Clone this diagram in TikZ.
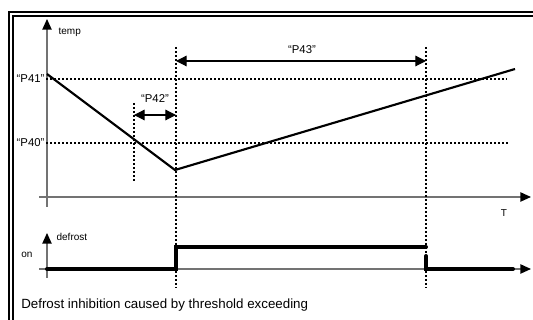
\documentclass[tikz,border=0pt]{standalone}
\usepackage{fontspec}
\setmainfont{Liberation Sans}
\usetikzlibrary{arrows.meta,calc}

\begin{document}
\begin{tikzpicture}[x=0.75pt,y=-0.75pt,
    axis/.style={draw=black!55,line width=1pt,-{Triangle[length=8pt,width=7pt,color=black]}},
    guide/.style={line width=0.8pt,dash pattern=on 1.5pt off 1.5pt},
    dim/.style={line width=0.9pt,{Triangle[length=8pt,width=8pt]}-{Triangle[length=8pt,width=8pt]}},
    signal/.style={line width=3pt,line cap=round},
    lbl/.style={font=\fontsize{7.5}{8}\selectfont,inner sep=1pt},
    par/.style={font=\fontsize{8.5}{9}\selectfont,inner sep=1pt}]

    \useasboundingbox (0,0) rectangle (533,320);

    \draw[line width=1.3pt] (9,320) -- (9,12) -- (533,12);
    \draw[line width=1.3pt] (13,320) -- (13,16) -- (533,16);

    \coordinate (tbot) at (47,207);
    \coordinate (ttop) at (47,19);
    \coordinate (tleft) at (39,197);
    \coordinate (tright) at (531,197);
    \coordinate (dbot) at (47,278);
    \coordinate (dtop) at (47,233);
    \coordinate (dleft) at (39,269);
    \coordinate (dright) at (531,269);

    \node[lbl,anchor=west] (temp) at (57,32) {temp};
    \node[lbl] (T) at (504,213) {T};
    \node[lbl,anchor=west] (defrost) at (55,237) {defrost};
    \node[lbl] (on) at (27,255) {on};

    \node[par,anchor=east] (P41) at (46,79) {``P41''};
    \node[par,anchor=east] (P40) at (46,143) {``P40''};
    \node[par] (P42) at (155,99) {``P42''};
    \node[par] (P43) at (302,50) {``P43''};

    \coordinate (p41end) at (507,79);
    \coordinate (p40end) at (510,143);
    \coordinate (a1) at (134,103);
    \coordinate (a2) at (134,183);
    \coordinate (b1) at (176,47);
    \coordinate (b2) at (176,288);
    \coordinate (c1) at (426,47);
    \coordinate (c2) at (426,288);

    \draw[axis] (tbot) -- (ttop);
    \draw[axis] (tleft) -- (tright);
    \draw[axis] (dbot) -- (dtop);
    \draw[axis] (dleft) -- (dright);

    \draw[guide] (P41.east) -- (p41end);
    \draw[guide] (P40.east) -- (p40end);
    \draw[guide] (a1) -- (a2);
    \draw[guide] (b1) -- (b2);
    \draw[guide] (c1) -- (c2);

    \draw[dim] (134,115) -- (176,115);
    \draw[dim] (176,61) -- (426,61);

    \coordinate (t0) at (47,74);
    \coordinate (tmin) at (175,170);
    \coordinate (t1) at (515,69);
    \draw[line width=1.6pt] (t0) -- (tmin) -- (t1);

    \draw[signal] (47,269) -- (176,269) -- (176,247) -- (426,247);
    \draw[signal] (426,256) -- (426,269) -- (513,269);

    \node[anchor=west,font=\fontsize{10}{12}\selectfont,inner sep=0pt] (caption) at (21,305)
        {Defrost inhibition caused by threshold exceeding};
\end{tikzpicture}
\end{document}
